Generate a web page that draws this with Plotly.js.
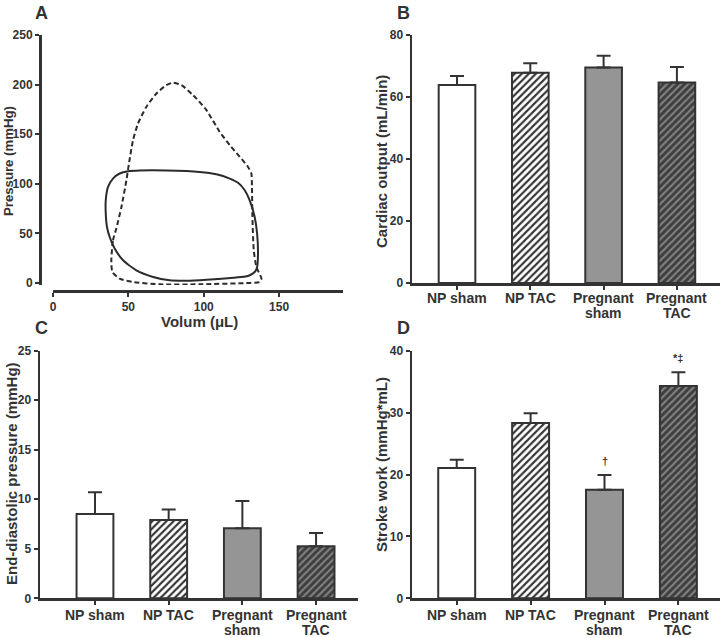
<!DOCTYPE html>
<html>
<head>
<meta charset="utf-8">
<script src="https://cdn.plot.ly/plotly-3.0.1.min.js"></script>
<style>html,body{margin:0;padding:0;background:#fff;}#chart{width:724px;height:638px;}</style>
</head>
<body>
<div id="chart"></div>
<script>
// ---------- DATA ----------
const groups = ["NP sham", "NP TAC", "Pregnant sham", "Pregnant TAC"];
const groupLine1 = ["NP sham", "NP TAC", "Pregnant", "Pregnant"];
const groupLine2 = ["", "", "sham", "TAC"];

// Panel A: pressure-volume loops
const loopSolidVolume = [135.4,136,135.4,133.8,130.5,127.2,122.8,117.3,108.4,97.3,75.2,57.5,49.8,44.2,39.8,36.5,35,35,35.8,37.6,40.9,46.5,55.3,66.4,77.4,88.5,101.8,119.5,129.4,133.8,135.4];
const loopSolidPressure = [16,30,50,66.6,83.4,93.5,101,105.3,109.7,112,113.4,113.4,112.7,110.4,105.3,96.9,83.4,70,56.5,46.4,34.7,22.9,12.8,6.1,2.7,2.4,3.4,5.4,7.1,11.1,16];
const loopDashedVolume = [38.7,39.8,42,45.4,48.7,50.4,53.1,56.4,62,68.6,75.2,79.6,85.2,92.9,101.8,110.6,117.3,123.9,129.4,131.6,132,132.3,133.2,135,138.3,137,128.3,97.3,70.8,53.1,44.2,39.4,38.7];
const loopDashedPressure = [22.9,43,55,76.7,103.6,120.5,144,160.8,177.7,191,199.5,201.9,199.5,189.4,174.3,152.4,139,127.2,117,110.4,96.9,66.6,33,16,4.4,1,0,-1.3,-1.3,1,4.4,11.1,22.9];

// Panel B: cardiac output (mL/min)
const cardiacOutput = [63.9, 67.8, 69.5, 64.7];
const cardiacOutputErr = [2.9, 3.1, 3.8, 5.0];
// Panel C: end-diastolic pressure (mmHg)
const edp = [8.52, 7.91, 7.07, 5.25];
const edpErr = [2.18, 1.05, 2.76, 1.35];
// Panel D: stroke work (mmHg*mL)
const strokeWork = [21.05, 28.3, 17.55, 34.3];
const strokeWorkErr = [1.35, 1.6, 2.35, 2.2];
const strokeWorkMarks = ["", "", "†", "*‡"];
const strokeWorkMarkY = [null, null, 22.2, 38.9];

// ---------- STYLE ----------
const ink = "#333333";
const FONT = "Liberation Sans, Arial, Helvetica, sans-serif";
const barFill = ["#ffffff", "#ffffff", "#959595", "#3d3d3d"];
const patShape = ["", "/", "", "/"];
const patFg = ["#333333", "#333333", "#333333", "#808080"];

function barTraces(vals, errs, xa, ya, name) {
  return groups.map((g, i) => ({
    type: "bar", x: [g], y: [vals[i]], name: name + " – " + g, xaxis: xa, yaxis: ya,
    width: 0.5,
    marker: {
      color: barFill[i],
      line: {color: ink, width: 2},
      pattern: {shape: patShape[i], fgcolor: patFg[i], bgcolor: barFill[i], size: 5, solidity: 0.42, fillmode: "replace"}
    },
    error_y: {type: "data", symmetric: false, array: [errs[i]], arrayminus: [0], color: ink, thickness: 2, width: 7},
    showlegend: false, hoverinfo: "x+y"
  }));
}

const traces = [
  {type: "scatter", mode: "lines", x: loopSolidVolume, y: loopSolidPressure, xaxis: "x", yaxis: "y",
   line: {color: "#2b2b2b", width: 2, shape: "spline", smoothing: 0.6}, showlegend: false, name: "sham"},
  {type: "scatter", mode: "lines", x: loopDashedVolume, y: loopDashedPressure, xaxis: "x", yaxis: "y",
   line: {color: "#2b2b2b", width: 2, dash: "5px,3px", shape: "spline", smoothing: 0.6}, showlegend: false, name: "TAC"}
].concat(
  barTraces(cardiacOutput, cardiacOutputErr, "x2", "y2", "Cardiac output"),
  barTraces(edp, edpErr, "x3", "y3", "End-diastolic pressure"),
  barTraces(strokeWork, strokeWorkErr, "x4", "y4", "Stroke work")
);

const tickFont = {family: FONT, size: 12, color: ink, weight: "bold"};
const catFont = {family: FONT, size: 14, color: ink, weight: "bold"};
const axBase = {showline: true, linecolor: ink, linewidth: 2.5, ticks: "outside", ticklen: 4, tickwidth: 2,
  tickcolor: ink, showgrid: false, zeroline: false, fixedrange: true};

function catAxis(domain, range, anchor) {
  return Object.assign({}, axBase, {domain: domain, range: range, anchor: anchor, type: "category",
    tickmode: "array", tickvals: groups, showticklabels: false, categoryorder: "array", categoryarray: groups});
}
function valAxis(domain, range, dtick, anchor) {
  return Object.assign({}, axBase, {domain: domain, range: range, anchor: anchor, dtick: dtick, tick0: 0, tickfont: tickFont});
}

const H = 638, W = 724;
const py = p => 1 - p / H, px = p => p / W;

const layout = {
  width: W, height: H, margin: {l: 0, r: 0, t: 0, b: 0}, barmode: "overlay",
  paper_bgcolor: "#ffffff", plot_bgcolor: "rgba(0,0,0,0)",
  font: {family: FONT, color: ink},
  xaxis: Object.assign({}, axBase, {domain: [px(53), px(343)], range: [0, 192.4], anchor: "free", position: py(291),
    tickvals: [0, 50, 100, 150], tickfont: tickFont}),
  yaxis: Object.assign({}, axBase, {domain: [py(285), py(35)], range: [-2, 250], anchor: "free", position: px(40),
    tickvals: [0, 50, 100, 150, 200, 250], tickfont: tickFont}),
  xaxis2: catAxis([px(412), px(720)], [-0.614, 3.588], "y2"),
  yaxis2: valAxis([py(283), py(35)], [0, 80], 20, "x2"),
  xaxis3: catAxis([px(40), px(358)], [-0.746, 3.569], "y3"),
  yaxis3: valAxis([py(598.3), py(350.7)], [0, 25], 5, "x3"),
  xaxis4: catAxis([px(412), px(720)], [-0.605, 3.563], "y4"),
  yaxis4: valAxis([py(598.3), py(350.7)], [0, 40], 10, "x4"),
  annotations: []
};

const letterFont = {family: FONT, size: 18, color: ink, weight: "bold"};
const titleFont = {family: FONT, size: 15, color: ink, weight: "bold"};
const letters = [["A", 41, 13], ["B", 403, 13], ["C", 41, 328], ["D", 403, 328]];
letters.forEach(([t, x, y]) => layout.annotations.push({text: t, xref: "paper", yref: "paper", x: px(x), y: py(y),
  showarrow: false, font: letterFont, xanchor: "center", yanchor: "middle"}));

const yTitles = [["Pressure (mmHg)", 9, 161, 13.2], ["Cardiac output (mL/min)", 381, 162, 15],
  ["End-diastolic pressure (mmHg)", 11, 474, 15], ["Stroke work (mmHg*mL)", 381, 465, 15]];
yTitles.forEach(([t, x, y, s]) => layout.annotations.push({text: t, xref: "paper", yref: "paper", x: px(x), y: py(y),
  showarrow: false, textangle: -90, font: Object.assign({}, titleFont, {size: s}), xanchor: "center", yanchor: "middle"}));
layout.annotations.push({text: "Volum (μL)", xref: "paper", yref: "paper", x: px(199), y: py(321),
  showarrow: false, font: titleFont, xanchor: "center", yanchor: "middle"});

// category labels (two lines, tight spacing like the original)
[["x2", 297.5], ["x3", 614.5], ["x4", 614.5]].forEach(([xa, y1]) => {
  groups.forEach((g, i) => {
    layout.annotations.push({text: groupLine1[i], xref: xa, yref: "paper", x: g, y: py(y1), showarrow: false,
      font: catFont, xanchor: "center", yanchor: "middle", borderpad: 0});
    if (groupLine2[i]) layout.annotations.push({text: groupLine2[i], xref: xa, yref: "paper", x: g, y: py(y1 + 15.7),
      showarrow: false, font: catFont, xanchor: "center", yanchor: "middle", borderpad: 0});
  });
});

groups.forEach((g, i) => {
  if (strokeWorkMarks[i]) layout.annotations.push({text: strokeWorkMarks[i], xref: "x4", yref: "y4", x: g, y: strokeWorkMarkY[i],
    showarrow: false, font: {family: FONT, size: 11, color: ink, weight: "bold"}, xanchor: "center", yanchor: "middle"});
});

Plotly.newPlot("chart", traces, layout, {displayModeBar: false, staticPlot: true});
</script>
</body>
</html>
